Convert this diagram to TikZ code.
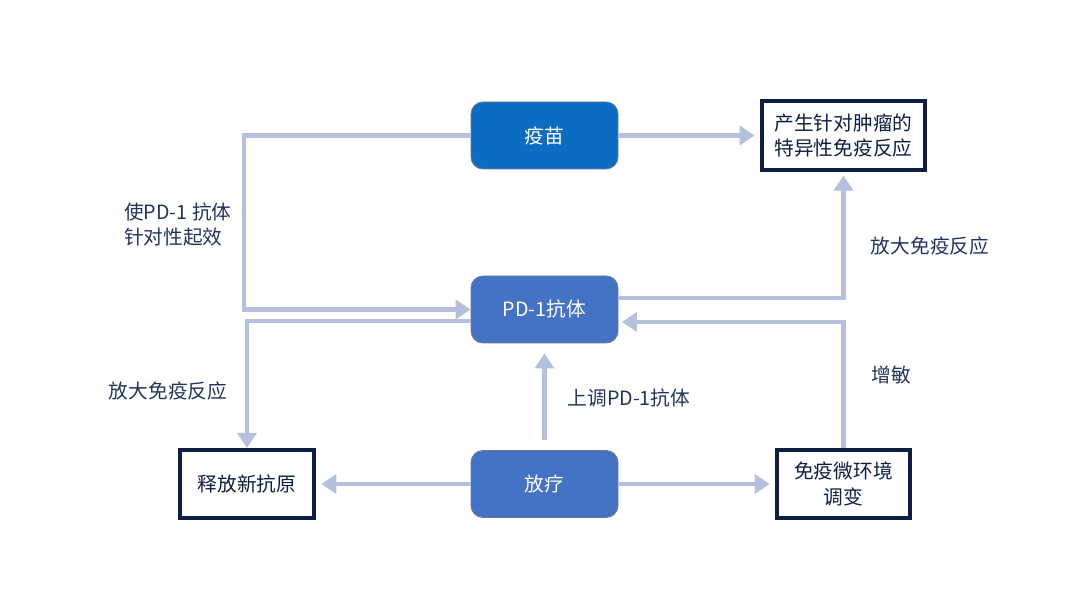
\documentclass[tikz,border=0pt]{standalone}
\usepackage{fontspec}
\setmainfont{Noto Sans CJK SC}
\usepackage{tikz}
\usetikzlibrary{arrows.meta, positioning, calc}
\definecolor{vacblue}{HTML}{0B6CC2}
\definecolor{midblue}{HTML}{4472C4}
\definecolor{navy}{HTML}{0E1E45}
\definecolor{linkblue}{HTML}{B4C0DE}
\definecolor{labtext}{HTML}{1F3560}

\begin{document}
\begin{tikzpicture}[
    every node/.style={font=\fontsize{11.2}{14.5}\selectfont},
    solidbox/.style={rectangle, rounded corners=0.24cm, draw=navy!60, line width=0.5pt, text=white, minimum width=2.94cm, minimum height=1.34cm, text centered},
    outbox/.style={rectangle, draw=navy, line width=2.3pt, fill=white, text=navy, align=center, inner sep=2pt},
    arrow/.style={-{Triangle[length=0.3cm,width=0.38cm]}, line width=2.8pt, draw=linkblue},
    lab/.style={text=labtext, align=left}
]
\useasboundingbox (0,0) rectangle (21.6,12.04);
\node[solidbox, fill=vacblue] (vaccine) at (10.89, 9.33) {疫苗};
\node[solidbox, fill=midblue] (pd1) at (10.89, 5.85) {PD-1抗体};
\node[solidbox, fill=midblue] (rt) at (10.89, 2.36) {放疗};
\node[outbox, minimum width=3.26cm, minimum height=1.38cm] (result) at (16.87, 9.33) {产生针对肿瘤的\\特异性免疫反应};
\node[outbox, minimum width=2.68cm, minimum height=1.36cm] (antigen) at (4.94, 2.36) {释放新抗原};
\node[outbox, minimum width=2.66cm, minimum height=1.36cm] (micro) at (16.87, 2.36) {免疫微环境\\调变};
\coordinate (lx) at (4.88, 0);
\draw[arrow, shorten >=3pt] (vaccine.east) -- (result.west);
\draw[arrow] (vaccine.west) -- (vaccine.west -| lx) |- (pd1.west);
\draw[arrow] ([yshift=-0.23cm]pd1.west) -| (antigen.north);
\draw[arrow, shorten >=2pt] ([yshift=0.23cm]pd1.east) -| (result.south);
\draw[arrow, shorten >=2pt] (micro.north) |- ([yshift=-0.25cm]pd1.east);
\draw[arrow, shorten <=0.2cm, shorten >=0.2cm] (rt.north) -- (pd1.south);
\draw[arrow, shorten >=3pt] (rt.west) -- (antigen.east);
\draw[arrow, shorten >=3pt] (rt.east) -- (micro.west);
\node[lab, anchor=west] (lab1) at (2.36, 7.55) {使PD-1 抗体\\针对性起效};
\node[lab] (lab2) at (18.6, 7.12) {放大免疫反应};
\node[lab] (lab3) at (3.36, 4.22) {放大免疫反应};
\node[lab] (lab4) at (12.58, 4.08) {上调PD-1抗体};
\node[lab] (lab5) at (17.82, 4.54) {增敏};
\end{tikzpicture}
\end{document}
